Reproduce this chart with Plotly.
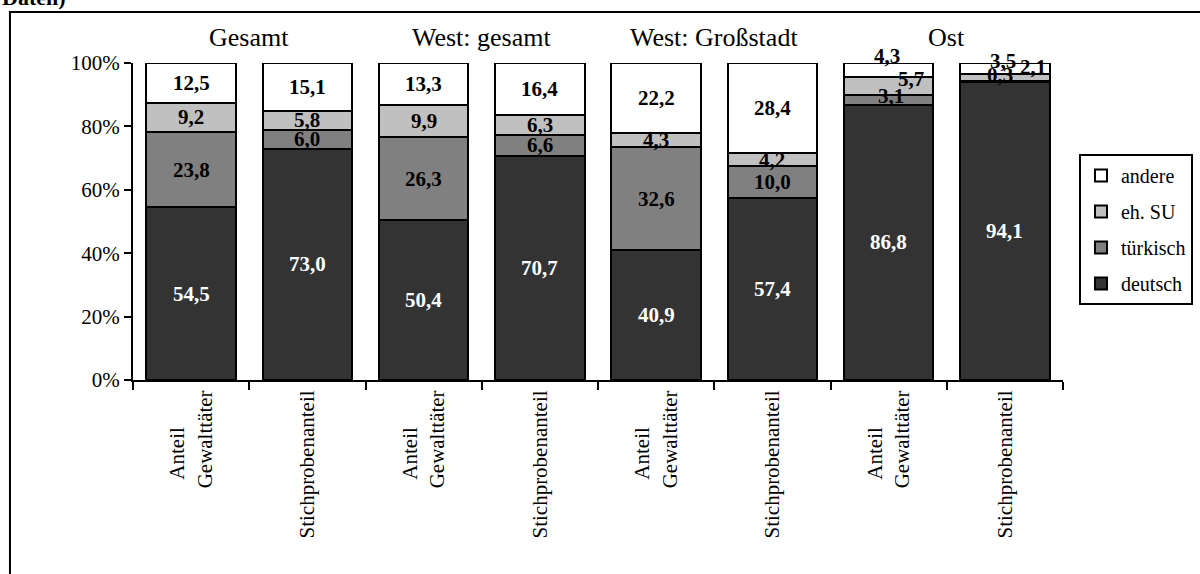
import plotly.graph_objects as go

# --- data ---
groups = ["Gesamt", "West: gesamt", "West: Großstadt", "Ost"]
bar_labels = ["Anteil<br>Gewalttäter", "Stichprobenanteil"] * 4
deutsch = [54.5, 73.0, 50.4, 70.7, 40.9, 57.4, 86.8, 94.1]
tuerkisch = [23.8, 6.0, 26.3, 6.6, 32.6, 10.0, 3.1, 0.3]
eh_su = [9.2, 5.8, 9.9, 6.3, 4.3, 4.2, 5.7, 2.1]
andere = [12.5, 15.1, 13.3, 16.4, 22.2, 28.4, 4.3, 3.5]
y_ticks = [0, 20, 40, 60, 80, 100]

FONT = "Liberation Serif"
series = [
    ("deutsch", deutsch, "#333333", "white"),
    ("türkisch", tuerkisch, "#808080", "black"),
    ("eh. SU", eh_su, "#C0C0C0", "black"),
    ("andere", andere, "#FFFFFF", "black"),
]
# label nudges (px) where small segments overlap in the Ost bars: (bar, series) -> (dx, dy)
nudges = {
    (6, "andere"): (-2, 14), (6, "eh. SU"): (22, 7), (6, "türkisch"): (2, 4),
    (7, "andere"): (-2, 8), (7, "türkisch"): (-5, 6), (7, "eh. SU"): (28, 10),
}

# centre the short first line of the rotated two-line labels
tick_text = [t.replace("<br>", "\u00a0" * 7 + "<br>") for t in bar_labels]

xs = list(range(len(bar_labels)))
fig = go.Figure()
annotations = []
base = [0.0] * len(xs)
for rank, (name, vals, color, tcol) in enumerate(series):
    fig.add_trace(go.Bar(
        x=xs, y=vals, name=name, legendgroup=name, legendrank=len(series) - rank,
        marker=dict(color=color, line=dict(color="black", width=2)),
        width=0.77, hoverinfo="skip",
    ))
    for i, v in enumerate(vals):
        dx, dy = nudges.get((i, name), (0, 0))
        annotations.append(dict(
            x=i, y=base[i] + v / 2, xref="x", yref="y", showarrow=False,
            text=f"{v:.1f}".replace(".", ","), xshift=dx, yshift=dy,
            font=dict(family=FONT, size=21, color=tcol, weight="bold"),
        ))
        base[i] += v

for g, name in enumerate(groups):
    annotations.append(dict(
        x=2 * g + 0.5, y=1.079, xref="x", yref="paper", showarrow=False,
        text=name, font=dict(family=FONT, size=26, color="black"), yanchor="middle",
    ))

annotations.append(dict(
    x=-0.143, y=1.16, xref="paper", yref="paper", showarrow=False,
    text="<b>Daten)</b>", xanchor="left", yanchor="bottom",
    font=dict(family=FONT, size=22, color="black"),
))

fig.update_layout(
    barmode="stack",
    width=1200, height=574,
    margin=dict(l=133, r=137, t=63, b=194, autoexpand=False),
    paper_bgcolor="white", plot_bgcolor="white",
    font=dict(family=FONT, size=20, color="black"),
    showlegend=True,
    legend=dict(
        x=1.0172, y=0.713, xanchor="left", yanchor="top",
        traceorder="grouped", tracegroupgap=7,
        bordercolor="black", borderwidth=2, bgcolor="white",
        font=dict(family=FONT, size=20, color="black"),
        itemwidth=30,
    ),
    annotations=annotations,
    shapes=[dict(
        type="rect", xref="paper", yref="paper",
        x0=-0.1323, x1=1.2, y0=-0.8, y1=1.161,
        line=dict(color="black", width=2), fillcolor="rgba(0,0,0,0)",
    )],
)
fig.update_xaxes(
    range=[-0.5, len(xs) - 0.5], automargin=False,
    tickvals=xs, ticktext=tick_text, tickangle=-90, ticks="",
    minor=dict(tickvals=[i - 0.5 for i in range(len(xs) + 1)], ticks="outside",
               ticklen=8, tickwidth=2, tickcolor="black"),
    showline=True, linecolor="black", linewidth=2, showgrid=False, zeroline=False,
    tickfont=dict(family=FONT, size=21, color="black"),
)
fig.update_yaxes(
    range=[0, 100], automargin=False,
    tickvals=y_ticks, ticktext=[f"{t}%" for t in y_ticks],
    ticks="outside", ticklen=7, tickwidth=2, tickcolor="black",
    showline=True, linecolor="black", linewidth=2, showgrid=False, zeroline=False,
    tickfont=dict(family=FONT, size=21, color="black"),
)

fig.write_html("out.html", config={"displayModeBar": False},
               post_script="document.body.style.margin='0';")
